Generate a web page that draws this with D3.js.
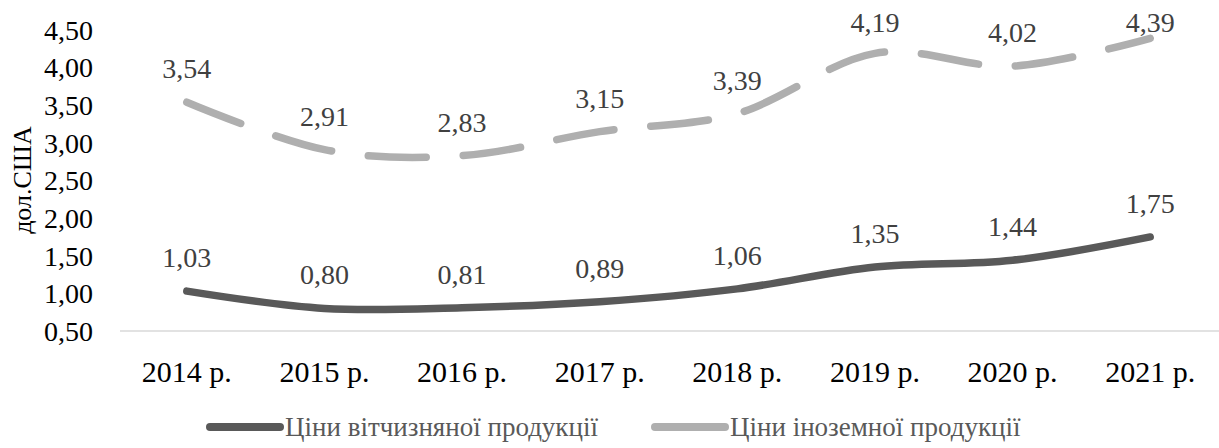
<!DOCTYPE html>
<html>
<head>
<meta charset="utf-8">
<script src="https://cdn.jsdelivr.net/npm/d3@7"></script>
<style>
  body { margin: 0; background: #fff; }
</style>
</head>
<body>
<div id="chart"></div>
<script>
// data
const years = ["2014 р.", "2015 р.", "2016 р.", "2017 р.", "2018 р.", "2019 р.", "2020 р.", "2021 р."];
const domestic = [1.03, 0.80, 0.81, 0.89, 1.06, 1.35, 1.44, 1.75];
const foreign = [3.54, 2.91, 2.83, 3.15, 3.39, 4.19, 4.02, 4.39];
const yTicks = [0.5, 1, 1.5, 2, 2.5, 3, 3.5, 4, 4.5];
const seriesNames = ["Ціни вітчизняної продукції", "Ціни іноземної продукції"];

const width = 1219, height = 448;
const margin = { top: 30, right: 0, bottom: 117, left: 118 };
const font = "'Liberation Serif', 'Times New Roman', serif";

const svg = d3.select("#chart")
  .append("svg")
  .attr("width", width)
  .attr("height", height)
  .style("font-family", font);

const x = d3.scaleBand()
  .domain(years)
  .range([margin.left, width - margin.right]);

const y = d3.scaleLinear()
  .domain([0.5, 4.5])
  .range([height - margin.bottom, margin.top]);

const fmt = v => d3.format(".2f")(v).replace(".", ",");

// y axis labels
svg.append("g")
  .selectAll("text")
  .data(yTicks)
  .join("text")
  .attr("x", 93)
  .attr("y", d => y(d))
  .attr("dy", "0.35em")
  .attr("text-anchor", "end")
  .attr("font-size", 28)
  .attr("fill", "#000")
  .text(fmt);

// y axis title
svg.append("text")
  .attr("transform", `translate(31,180) rotate(-90)`)
  .attr("text-anchor", "middle")
  .attr("font-size", 26)
  .attr("fill", "#000")
  .text("дол.США");

// x axis baseline
svg.append("line")
  .attr("x1", margin.left + 2)
  .attr("x2", width)
  .attr("y1", y(0.5))
  .attr("y2", y(0.5))
  .attr("stroke", "#d9d9d9")
  .attr("stroke-width", 1.5);

// x axis labels
svg.append("g")
  .selectAll("text")
  .data(years)
  .join("text")
  .attr("x", d => x(d) + x.bandwidth() / 2)
  .attr("y", y(0.5) + 51)
  .attr("text-anchor", "middle")
  .attr("font-size", 30)
  .attr("fill", "#000")
  .text(d => d);

const line = d3.line()
  .x((d, i) => x(years[i]) + x.bandwidth() / 2)
  .y(d => y(d))
  .curve(d3.curveCardinal.tension(0));

const series = [
  { values: domestic, color: "#595959", dash: null },
  { values: foreign, color: "#afafaf", dash: "58,37" }
];

series.forEach(s => {
  svg.append("path")
    .datum(s.values)
    .attr("d", line)
    .attr("fill", "none")
    .attr("stroke", s.color)
    .attr("stroke-width", 7.5)
    .attr("stroke-linecap", "round")
    .attr("stroke-dasharray", s.dash);

  svg.append("g")
    .selectAll("text")
    .data(s.values)
    .join("text")
    .attr("x", (d, i) => x(years[i]) + x.bandwidth() / 2)
    .attr("y", d => Math.max(y(d) - 24, 32))
    .attr("text-anchor", "middle")
    .attr("font-size", 28)
    .attr("fill", "#404040")
    .text(fmt);
});

// legend
const legendX = [207, 652];
series.forEach((s, i) => {
  const g = svg.append("g").attr("transform", `translate(${legendX[i]},427)`);
  g.append("line")
    .attr("x1", 3).attr("x2", 73)
    .attr("stroke", s.color)
    .attr("stroke-width", 8)
    .attr("stroke-linecap", "round");
  g.append("text")
    .attr("x", 78)
    .attr("dy", "0.35em")
    .attr("font-size", 27)
    .attr("fill", "#595959")
    .text(seriesNames[i]);
});
</script>
</body>
</html>
